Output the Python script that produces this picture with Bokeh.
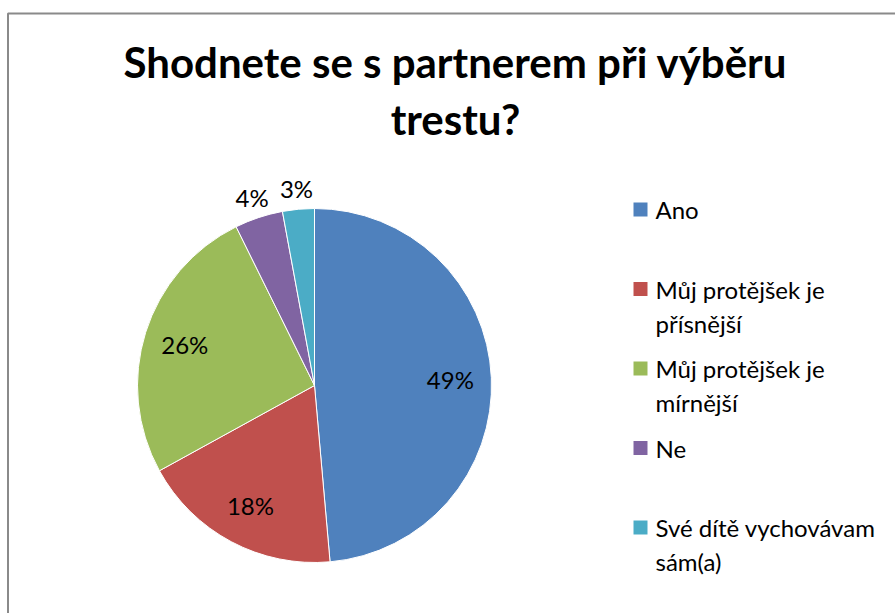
import numpy as np
from bokeh.plotting import figure
from bokeh.models import Range1d
from bokeh.embed import file_html
from bokeh.resources import INLINE
from bokeh.core.properties import value

# ---- data ----
categories = ["Ano", "Můj protějšek je přísnější", "Můj protějšek je mírnější",
              "Ne", "Své dítě vychovávam sám(a)"]
legend_lines = [["Ano"], ["Můj protějšek je", "přísnější"], ["Můj protějšek je", "mírnější"],
                ["Ne"], ["Své dítě vychovávam", "sám(a)"]]
shares = [48.6, 18.4, 25.7, 4.4, 2.9]
pct_labels = ["49%", "18%", "26%", "4%", "3%"]
colors = ["#4F81BD", "#C0504D", "#9BBB59", "#8064A2", "#4BACC6"]
title_lines = ["Shodnete se s partnerem při výběru", "trestu?"]

W, H = 895, 613
FONT = "Lato"

p = figure(width=W, height=H, x_range=Range1d(0, W), y_range=Range1d(0, H),
           output_backend="svg", toolbar_location=None, min_border=0,
           x_axis_type=None, y_axis_type=None)
p.grid.visible = False
p.outline_line_color = None
p.background_fill_color = "white"
p.border_fill_color = "white"

# frame border (top & left visible)
p.line(x=[7.5, 7.5, W + 10], y=[-10, H - 13, H - 13], line_color="#8a8a8a", line_width=2)

# title
title_y = [H - 61, H - 118]
for t, ty in zip(title_lines, title_y):
    p.text(x=[455], y=[ty], text=[t], text_font=value(FONT), text_font_style="bold",
           text_font_size="42px", text_align="center", text_baseline="middle", text_color="black")

# pie
cx, cy, R = 314, H - 385, 177
total = float(sum(shares))
cum = np.concatenate([[0], np.cumsum(shares)])
starts = np.pi / 2 - 2 * np.pi * cum[:-1] / total
ends = np.pi / 2 - 2 * np.pi * cum[1:] / total
p.wedge(x=cx, y=cy, radius=R, start_angle=starts, end_angle=ends, direction="clock",
        fill_color=colors, line_color="white", line_width=1)

# data labels
mids = np.pi / 2 - 2 * np.pi * (cum[:-1] + np.array(shares) / 2) / total
lr = np.where(np.array(shares) < 5, 198, 136)
lx = cx + lr * np.cos(mids)
ly = cy + lr * np.sin(mids)
p.text(x=lx, y=ly, text=pct_labels, text_font=value(FONT), text_font_size="24px",
       text_align="center", text_baseline="middle", text_color="black")

# legend
leg_top, leg_step, line_h = H - 209, 79.5, 34
for i, (lines, c) in enumerate(zip(legend_lines, colors)):
    y0 = leg_top - i * leg_step
    p.rect(x=[640], y=[y0], width=14, height=14, fill_color=c, line_color=None)
    for j, ln in enumerate(lines):
        p.text(x=[655], y=[y0 - j * line_h], text=[ln], text_font=value(FONT),
               text_font_size="24px", text_align="left", text_baseline="middle",
               text_color="black")

open("out.html", "w").write(file_html(p, INLINE))
